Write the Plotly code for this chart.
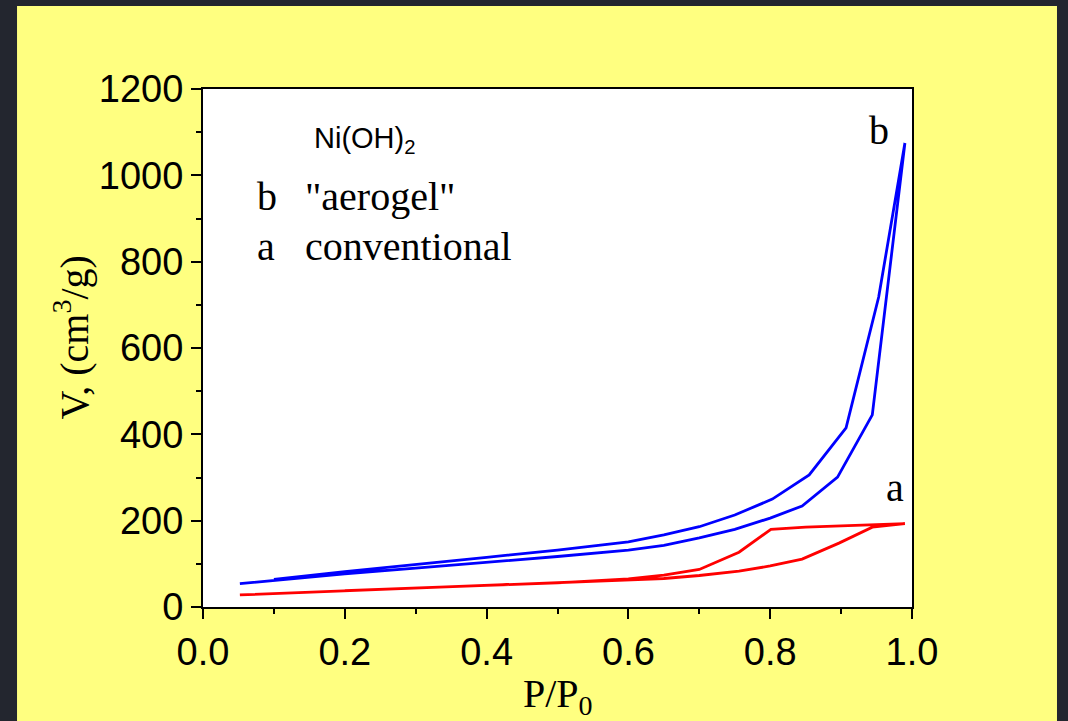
import plotly.graph_objects as go

# Sample b ("aerogel") - adsorption (lower) and desorption (upper) branches
b_ads_x = [0.052, 0.1, 0.2, 0.3, 0.4, 0.5, 0.6, 0.65, 0.7, 0.75, 0.8, 0.845, 0.895, 0.944, 0.99]
b_ads_y = [54, 62, 77, 90, 103, 117, 132, 143, 160, 180, 206, 234, 301, 445, 1075]
b_des_x = [0.99, 0.953, 0.907, 0.855, 0.803, 0.75, 0.7, 0.65, 0.6, 0.5, 0.4, 0.3, 0.2, 0.1]
b_des_y = [1075, 718, 415, 306, 250, 213, 186, 167, 151, 132, 115, 99, 82, 64]

# Sample a (conventional)
a_ads_x = [0.052, 0.1, 0.2, 0.3, 0.4, 0.5, 0.6, 0.65, 0.7, 0.756, 0.8, 0.845, 0.897, 0.944, 0.99]
a_ads_y = [28, 31, 37, 43, 49, 55, 62, 66, 73, 83, 95, 111, 148, 185, 193]
a_des_x = [0.99, 0.944, 0.9, 0.85, 0.801, 0.756, 0.7, 0.65, 0.6, 0.5, 0.4, 0.3, 0.2]
a_des_y = [193, 190, 187, 185, 180, 127, 87, 74, 65, 56, 50, 44, 38]

x_ticks = [0.0, 0.2, 0.4, 0.6, 0.8, 1.0]
x_tick_labels = ["0.0", "0.2", "0.4", "0.6", "0.8", "1.0"]
y_ticks = [0, 200, 400, 600, 800, 1000, 1200]

SERIF = "Liberation Serif, Times New Roman, serif"
SANS = "Liberation Sans, Arial, sans-serif"

fig = go.Figure()
fig.add_trace(go.Scatter(x=b_ads_x + b_des_x, y=b_ads_y + b_des_y, mode="lines",
                         line=dict(color="#0000ff", width=2.8), showlegend=False))
fig.add_trace(go.Scatter(x=a_ads_x + a_des_x, y=a_ads_y + a_des_y, mode="lines",
                         line=dict(color="#ff0000", width=2.8), showlegend=False))

axis_common = dict(showgrid=False, zeroline=False, showline=True, linecolor="black",
                   linewidth=2, mirror=True, ticks="outside", ticklen=10, tickwidth=2,
                   tickcolor="black", tickfont=dict(family=SANS, size=38, color="black"))

fig.update_xaxes(range=[0, 1.0], tickvals=x_ticks, ticktext=x_tick_labels,
                 minor=dict(dtick=0.1, ticklen=5, tickwidth=2, tickcolor="black", ticks="outside"),
                 **axis_common)
fig.update_yaxes(range=[0, 1200], tickvals=y_ticks,
                 minor=dict(dtick=100, ticklen=5, tickwidth=2, tickcolor="black", ticks="outside"),
                 **axis_common)

shapes = [
    dict(type="rect", xref="paper", yref="paper", x0=-0.2623, x1=1.2045, y0=-0.3, y1=1.1602,
         fillcolor="#ffff80", line=dict(width=0), layer="below"),
    dict(type="rect", xref="paper", yref="paper", x0=0, x1=1, y0=0, y1=1,
         fillcolor="white", line=dict(width=0), layer="below"),
]

annotations = [
    dict(x=0.1535, y=1082, xref="x", yref="y", text="Ni(OH)<sub>2</sub>", showarrow=False,
         xanchor="left", yanchor="middle", font=dict(family=SANS, size=29, color="black")),
    dict(x=0.073, y=950, xref="x", yref="y", text="b", showarrow=False,
         xanchor="left", yanchor="middle", font=dict(family=SERIF, size=40, color="black")),
    dict(x=0.141, y=950, xref="x", yref="y", text="\"aerogel\"", showarrow=False,
         xanchor="left", yanchor="middle", font=dict(family=SERIF, size=40, color="black")),
    dict(x=0.073, y=834, xref="x", yref="y", text="a", showarrow=False,
         xanchor="left", yanchor="middle", font=dict(family=SERIF, size=40, color="black")),
    dict(x=0.141, y=834, xref="x", yref="y", text="conventional", showarrow=False,
         xanchor="left", yanchor="middle", font=dict(family=SERIF, size=40, color="black")),
    dict(x=0.953, y=1104, xref="x", yref="y", text="b", showarrow=False,
         xanchor="center", yanchor="middle", font=dict(family=SERIF, size=40, color="black")),
    dict(x=0.976, y=277, xref="x", yref="y", text="a", showarrow=False,
         xanchor="center", yanchor="middle", font=dict(family=SERIF, size=40, color="black")),
    # axis titles
    dict(x=-0.185, y=0.52, xref="paper", yref="paper", text="V, (cm<sup>3</sup>/g)", showarrow=False,
         textangle=-90, xanchor="center", yanchor="middle",
         font=dict(family=SERIF, size=40, color="black")),
    dict(x=0.5, y=-0.172, xref="paper", yref="paper", text="P/P<sub>0</sub>", showarrow=False,
         xanchor="center", yanchor="middle", font=dict(family=SERIF, size=40, color="black")),
]

fig.update_layout(
    width=1068, height=721,
    margin=dict(l=203, r=156, t=89, b=114, pad=0),
    paper_bgcolor="#23262f", plot_bgcolor="white",
    shapes=shapes, annotations=annotations, showlegend=False,
)

fig.write_html("out.html", config={"displayModeBar": False},
               post_script="document.body.style.margin='0';document.body.style.padding='0';"
                           "document.body.style.overflow='hidden';")
